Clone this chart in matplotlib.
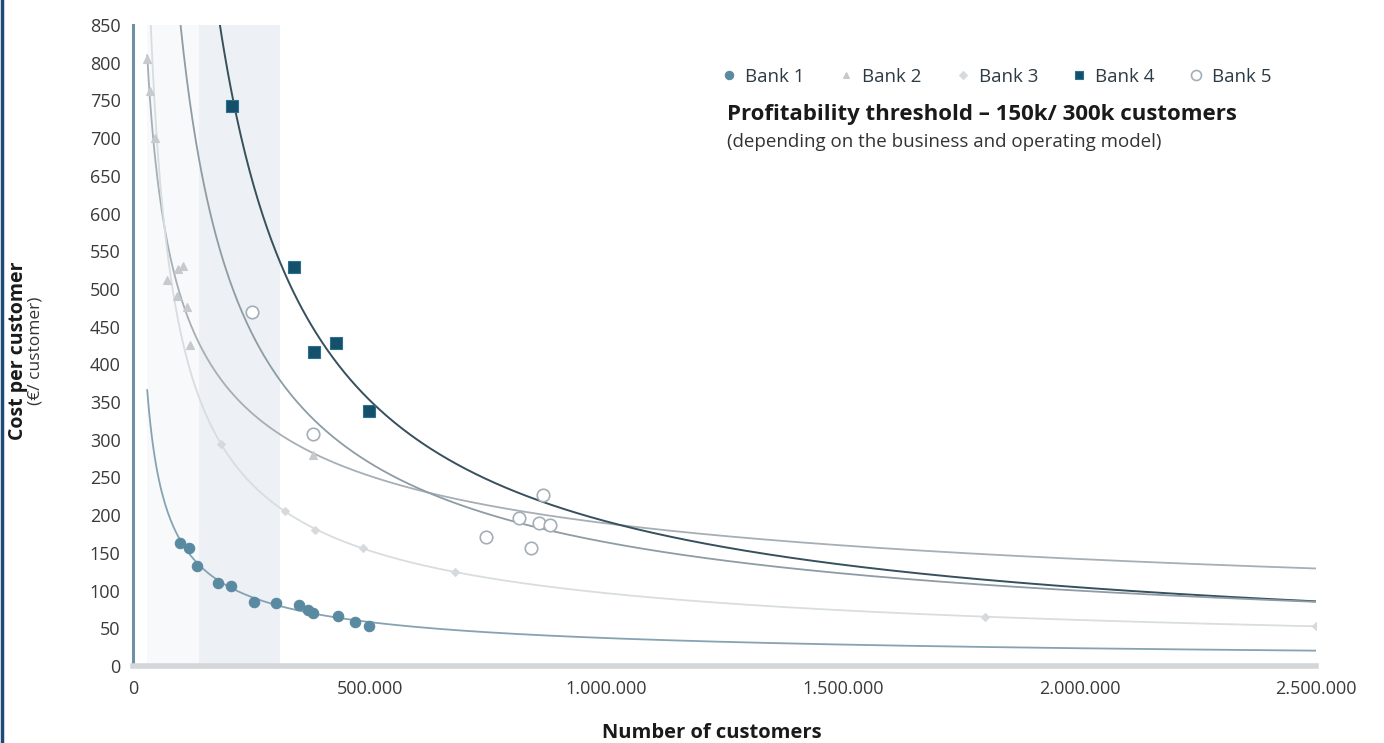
import numpy as np
import matplotlib
matplotlib.use('Agg')
import matplotlib.pyplot as plt
from matplotlib.lines import Line2D
from matplotlib.ticker import FuncFormatter, MultipleLocator

plt.rcParams['font.family'] = ['Open Sans', 'DejaVu Sans']

# ---------------- data ----------------
bank1_x = [99000, 119000, 136000, 180000, 207000, 256000, 302000, 351000, 370000, 381000, 433000, 469000, 499000]
bank1_y = [163, 156, 133, 110, 106, 85, 83, 81, 74, 70, 66, 59, 53]

bank2_x = [29000, 36000, 47000, 71000, 92000, 96000, 106000, 115000, 120000, 381000]
bank2_y = [805, 762, 700, 512, 490, 527, 530, 476, 425, 280]

bank3_x = [187000, 321000, 385000, 487000, 680000, 1800000, 2500000]
bank3_y = [295, 205, 180, 156, 125, 65, 53]

bank4_x = [209000, 341000, 383000, 430000, 499000]
bank4_y = [743, 529, 417, 428, 338]

bank5_x = [251000, 381000, 747000, 816000, 842000, 859000, 866000, 881000]
bank5_y = [470, 308, 171, 196, 157, 190, 227, 187]

bank_labels = ['Bank 1', 'Bank 2', 'Bank 3', 'Bank 4', 'Bank 5']
threshold_low_band = [30000, 140000]
threshold_band = [140000, 310000]
trend_range = [30000, 2500000]

x_ticks = [0, 500000, 1000000, 1500000, 2000000, 2500000]
y_max = 850

# ---------------- styles ----------------
series = [
    (bank1_x, bank1_y, dict(marker='o', ms=7.5, mfc='#5a8aa1', mec='#5a8aa1', mew=0.8), '#86a3b2', 1.3),
    (bank2_x, bank2_y, dict(marker='^', ms=6, mfc='#c6cacd', mec='#c6cacd', mew=0.8), '#a6afb5', 1.3),
    (bank3_x, bank3_y, dict(marker='D', ms=4.5, mfc='#d6dadd', mec='#d6dadd', mew=0.8), '#d8dde0', 1.3),
    (bank4_x, bank4_y, dict(marker='s', ms=8, mfc='#15506b', mec='#2a7090', mew=0.8), '#36505e', 1.4),
    (bank5_x, bank5_y, dict(marker='o', ms=9, mfc='white', mec='#a3afb5', mew=1.2), '#8d9ca5', 1.3),
]

fig = plt.figure(figsize=(13.84, 7.43), dpi=100)
ax = fig.add_axes([0.0961, 0.1036, 0.8548, 0.8628])

# shaded profitability threshold area
ax.axvspan(threshold_low_band[0], threshold_low_band[1], color='#f8f9fb', zorder=0, lw=0)
ax.axvspan(threshold_band[0], threshold_band[1], color='#edf0f4', zorder=0, lw=0)

xs = np.linspace(trend_range[0], trend_range[1], 800)
for (x, y, mk, lc, lw) in series:
    lx, ly = np.log(np.array(x, float)), np.log(np.array(y, float))
    b, loga = np.polyfit(lx, ly, 1)
    ax.plot(xs, np.exp(loga) * xs ** b, color=lc, lw=lw, zorder=2)
for (x, y, mk, lc, lw) in series:
    ax.plot(x, y, ls='none', zorder=3, **mk)

ax.set_xlim(0, 2500000)
ax.set_ylim(0, y_max)
ax.set_xticks(x_ticks)
ax.yaxis.set_major_locator(MultipleLocator(50))
ax.xaxis.set_major_formatter(FuncFormatter(lambda v, p: '0' if v == 0 else f'{int(v):,}'.replace(',', '.')))
ax.tick_params(axis='both', length=0, labelsize=13, colors='#3a3a3a')
ax.tick_params(axis='y', pad=9)
ax.tick_params(axis='x', pad=10)

for s in ['top', 'right']:
    ax.spines[s].set_visible(False)
ax.spines['left'].set_color('#6f90a2')
ax.spines['left'].set_linewidth(2.2)
ax.spines['bottom'].set_color('#d3d7da')
ax.spines['bottom'].set_linewidth(4)

# legend
handles = []
for (x, y, mk, lc, lw) in series:
    m = dict(mk)
    m['ms'] = m['ms'] * 0.8
    handles.append(Line2D([], [], ls='none', **m))
leg = ax.legend(handles, bank_labels, ncol=5, loc='upper left', bbox_to_anchor=(0.493, 0.945),
                frameon=False, handlelength=0.6, handletextpad=0.55, columnspacing=1.9,
                fontsize=13.5, borderaxespad=0)
for t in leg.get_texts():
    t.set_color('#2d3b45')

ax.text(0.502, 0.8596, 'Profitability threshold \u2013 150k/ 300k customers', transform=ax.transAxes,
        fontsize=16, fontweight='bold', va='center', ha='left', color='#1a1a1a')
ax.text(0.502, 0.8175, '(depending on the business and operating model)', transform=ax.transAxes,
        fontsize=13.5, va='center', ha='left', color='#333333')

fig.text(712 / 1384, 1 - 733 / 743, 'Number of customers', fontsize=14.5, fontweight='bold',
         ha='center', va='center', color='#1a1a1a')
fig.text(18 / 1384, 1 - 351 / 743, 'Cost per customer', fontsize=14, fontweight='bold',
         ha='center', va='center', rotation=90, color='#1a1a1a')
fig.text(36 / 1384, 1 - 351 / 743, '(\u20ac/ customer)', fontsize=12.5,
         ha='center', va='center', rotation=90, color='#333333')

fig.add_artist(Line2D([0.0012, 0.0012], [0, 1], transform=fig.transFigure, color='#1f4a78', lw=2.5))

fig.savefig('out.png', dpi=100)
